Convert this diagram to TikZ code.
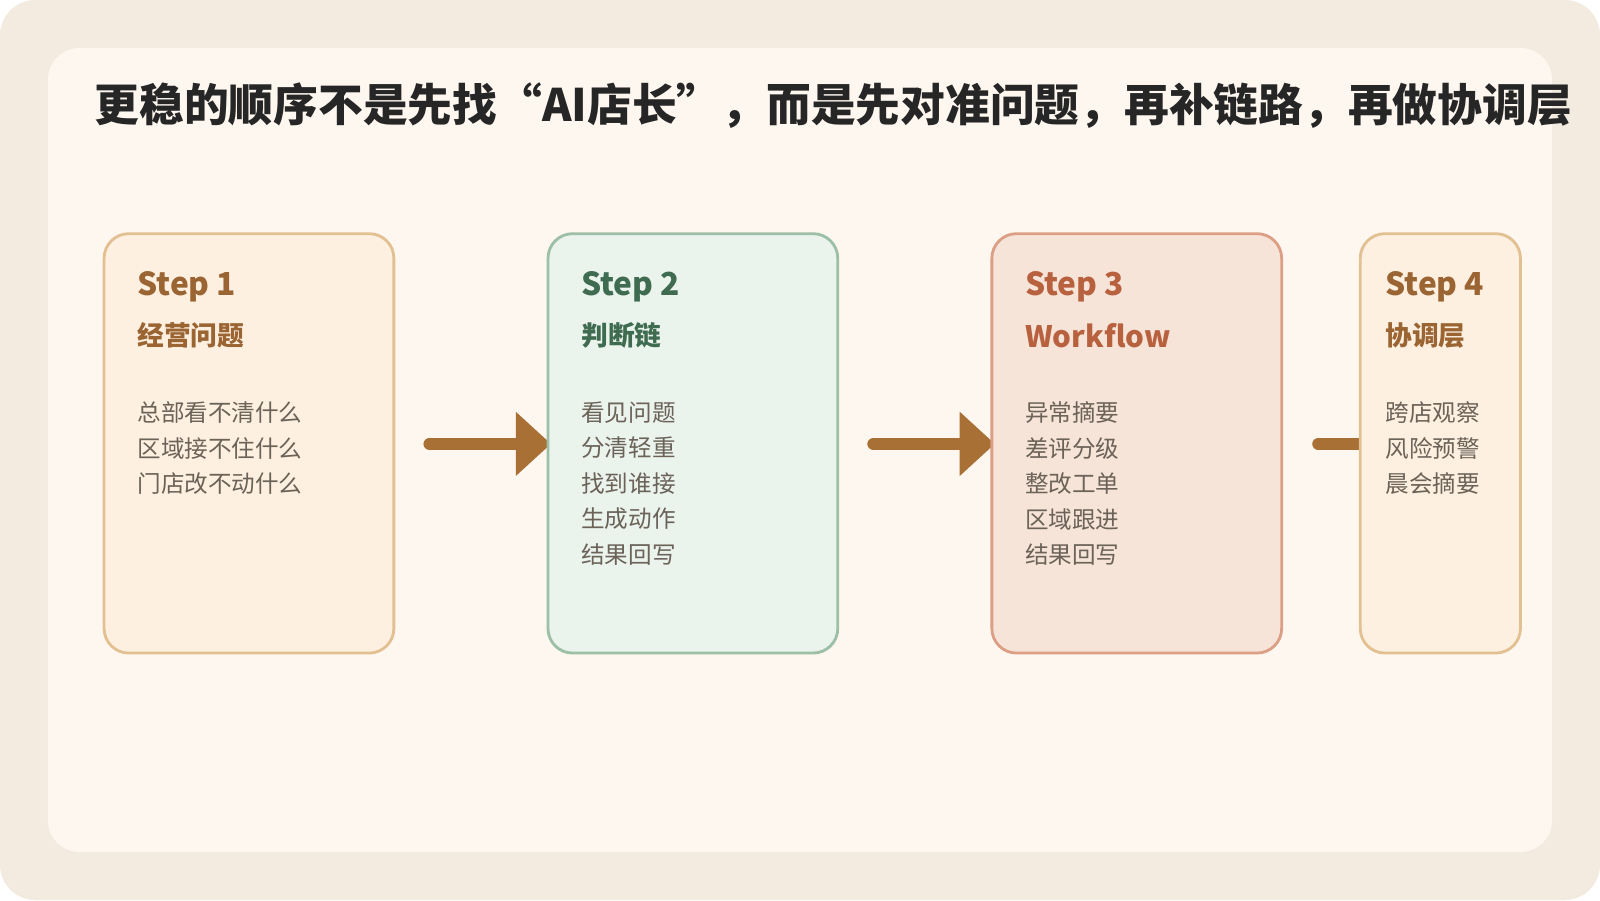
\documentclass[tikz,border=0pt]{standalone}
\usepackage{fontspec}
\setmainfont{Noto Sans CJK SC}
\usepackage{xcolor}
\usetikzlibrary{arrows.meta,positioning}
\definecolor{outerbg}{HTML}{F3EBE0}
\definecolor{panelbg}{HTML}{FEF7F0}
\definecolor{sandfill}{HTML}{FDF0E0}
\definecolor{sandline}{HTML}{E2C091}
\definecolor{sagefill}{HTML}{EAF3EC}
\definecolor{sageline}{HTML}{9CBFA5}
\definecolor{clayfill}{HTML}{F7E4D9}
\definecolor{clayline}{HTML}{DC9F85}
\definecolor{brownink}{HTML}{9B6433}
\definecolor{greenink}{HTML}{3F6B50}
\definecolor{clayink}{HTML}{B8613F}
\definecolor{itemink}{HTML}{6B6258}
\definecolor{arrowink}{HTML}{A87035}
\tikzset{
  card/.style={draw, line width=0.8pt, rounded corners=7pt},
  steptitle/.style={anchor=west, font=\fontsize{9.0}{11}\selectfont\bfseries, inner sep=0pt},
  stepname/.style={anchor=west, font=\fontsize{7.6}{9}\selectfont\bfseries, inner sep=0pt},
  stepitems/.style={anchor=north west, align=left, text=itemink, inner sep=0pt,
    font=\fontsize{6.7}{10.1}\selectfont},
  flow/.style={arrowink, line width=3.5pt, line cap=round,
    -{Triangle[length=10pt,width=17.6pt]}}
}
\begin{document}
\begin{tikzpicture}[x=0.0102cm,y=-0.0102cm]
    \useasboundingbox (0,0) rectangle (1568,882);
    \fill[outerbg, rounded corners=10pt] (0,0) rectangle (1568,882);
    \fill[panelbg, rounded corners=9pt] (47,47) rectangle (1521,835);
    \node[anchor=west, inner sep=0pt, font=\fontsize{12.72}{14}\selectfont\bfseries, text=black!85]
      (title) at (92,103) {更稳的顺序不是先找“AI店长”，而是先对准问题，再补链路，再做协调层};
    % arrows first, cards cover the tips
    \coordinate (a1s) at (421,435); \coordinate (a1e) at (540,435);
    \coordinate (a2s) at (856,435); \coordinate (a2e) at (975,435);
    \coordinate (a3s) at (1292,435); \coordinate (a3e) at (1410,435);
    \draw[flow] (a1s) -- (a1e);
    \draw[flow] (a2s) -- (a2e);
    \draw[flow] (a3s) -- (a3e);
    % cards
    \draw[card, fill=sandfill, draw=sandline] (102,229) rectangle (386,640);
    \draw[card, fill=sagefill, draw=sageline] (537,229) rectangle (821,640);
    \draw[card, fill=clayfill, draw=clayline] (972,229) rectangle (1256,640);
    \draw[card, fill=sandfill, draw=sandline] (1333,229) rectangle (1490,640);
    % step 1
    \node[steptitle, text=brownink] (s1) at (134,281) {Step 1};
    \node[stepname, text=brownink] (n1) at (134,329) {经营问题};
    \node[stepitems] (i1) at (134,393) {总部看不清什么\\区域接不住什么\\门店改不动什么};
    % step 2
    \node[steptitle, text=greenink] (s2) at (569,281) {Step 2};
    \node[stepname, text=greenink] (n2) at (569,329) {判断链};
    \node[stepitems] (i2) at (569,393) {看见问题\\分清轻重\\找到谁接\\生成动作\\结果回写};
    % step 3
    \node[steptitle, text=clayink] (s3) at (1004,281) {Step 3};
    \node[stepname, text=clayink, font=\fontsize{8.4}{11}\selectfont\bfseries] (n3) at (1004,329) {Workflow};
    \node[stepitems] (i3) at (1004,393) {异常摘要\\差评分级\\整改工单\\区域跟进\\结果回写};
    % step 4
    \node[steptitle, text=brownink] (s4) at (1357,281) {Step 4};
    \node[stepname, text=brownink] (n4) at (1357,329) {协调层};
    \node[stepitems] (i4) at (1357,393) {跨店观察\\风险预警\\晨会摘要};
\end{tikzpicture}
\end{document}
